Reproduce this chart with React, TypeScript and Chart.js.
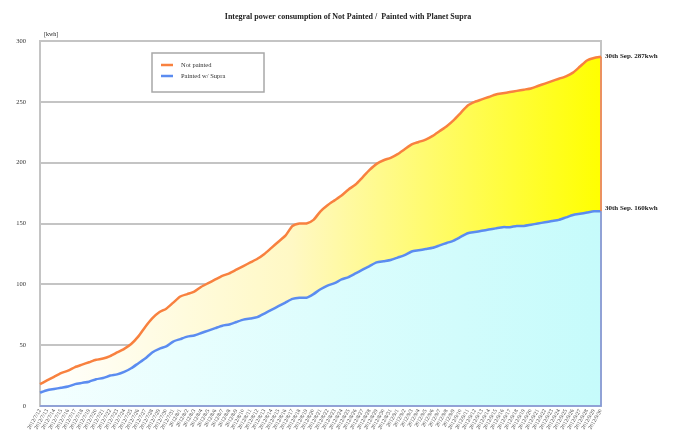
import React, { useEffect, useRef } from "react";
import { Chart, registerables } from "chart.js";

Chart.register(...registerables);

const TITLE = "Integral power consumption of Not Painted /  Painted with Planet Supra";
const UNIT_LABEL = "[kwh]";
const SERIES_NAMES = ["Not painted", "Painted w/ Supra"];
const END_NOTES = ["30th Sep. 287kwh", "30th Sep. 160kwh"];

const START_MONTH = 7;
const START_DAY = 12;
const DAY_COUNT = 81;

const notPainted = [
  18, 21, 24, 27, 29, 32, 34, 36, 38, 39,
  41, 44, 47, 51, 57, 65, 72, 77, 80, 85,
  90, 92, 94, 98, 101, 104, 107, 109, 112, 115,
  118, 121, 125, 130, 135, 140, 148, 150, 150, 153,
  160, 165, 169, 173, 178, 182, 188, 194, 199, 202,
  204, 207, 211, 215, 217, 219, 222, 226, 230, 235,
  241, 247, 250, 252, 254, 256, 257, 258, 259, 260,
  261, 263, 265, 267, 269, 271, 274, 279, 284, 286,
  287,
];

const paintedSupra = [
  11, 13, 14, 15, 16, 18, 19, 20, 22, 23,
  25, 26, 28, 31, 35, 39, 44, 47, 49, 53,
  55, 57, 58, 60, 62, 64, 66, 67, 69, 71,
  72, 73, 76, 79, 82, 85, 88, 89, 89, 92,
  96, 99, 101, 104, 106, 109, 112, 115, 118, 119,
  120, 122, 124, 127, 128, 129, 130, 132, 134, 136,
  139, 142, 143, 144, 145, 146, 147, 147, 148, 148,
  149, 150, 151, 152, 153, 155, 157, 158, 159, 160,
  160,
];

const Y_TICKS = [0, 50, 100, 150, 200, 250, 300];

function makeDateLabels(): string[] {
  const out: string[] = [];
  const d = new Date(2012, START_MONTH - 1, START_DAY);
  for (let i = 0; i < DAY_COUNT; i++) {
    out.push(`${d.getFullYear()}/${d.getMonth() + 1}/${d.getDate()}`);
    d.setDate(d.getDate() + 1);
  }
  return out;
}
const categories = makeDateLabels();

const FONT = "'Liberation Serif', 'DejaVu Serif', serif";
const ORANGE = "#f8813f";
const BLUE = "#5b8cf0";

const decorPlugin = {
  id: "decor",
  beforeDatasetsDraw(chart: any) {
    const { ctx, chartArea } = chart;
    ctx.save();
    ctx.strokeStyle = "#c4c4c4";
    ctx.lineWidth = 2;
    ctx.strokeRect(chartArea.left, chartArea.top, chartArea.right - chartArea.left, chartArea.bottom - chartArea.top);
    ctx.restore();
  },
  afterDatasetsDraw(chart: any) {
    const { ctx, chartArea, scales } = chart;
    const x = scales.x.getPixelForValue(DAY_COUNT - 1);
    const yTop = scales.y.getPixelForValue(notPainted[notPainted.length - 1]);
    const yMid = scales.y.getPixelForValue(paintedSupra[paintedSupra.length - 1]);
    ctx.save();
    ctx.lineWidth = 1.5;
    ctx.strokeStyle = ORANGE;
    ctx.beginPath();
    ctx.moveTo(x, yTop);
    ctx.lineTo(x, yMid);
    ctx.stroke();
    ctx.strokeStyle = "#7f96dc";
    ctx.beginPath();
    ctx.moveTo(x, yMid);
    ctx.lineTo(x, chartArea.bottom);
    ctx.lineTo(chartArea.left, chartArea.bottom);
    ctx.stroke();
    ctx.restore();
  },
  afterDraw(chart: any) {
    const { ctx, chartArea, scales } = chart;
    ctx.save();
    ctx.fillStyle = "#222";
    ctx.font = `bold 8px ${FONT}`;
    ctx.textAlign = "center";
    ctx.textBaseline = "middle";
    ctx.fillText(TITLE, 348, 17);
    ctx.font = `6px ${FONT}`;
    ctx.textAlign = "left";
    ctx.fillText(UNIT_LABEL, chartArea.left + 4, chartArea.top - 7);
    const x = scales.x.getPixelForValue(DAY_COUNT - 1);
    ctx.font = `bold 7px ${FONT}`;
    ctx.fillText(END_NOTES[0], x + 4, scales.y.getPixelForValue(notPainted[notPainted.length - 1]) - 1);
    ctx.fillText(END_NOTES[1], x + 4, scales.y.getPixelForValue(paintedSupra[paintedSupra.length - 1]) - 3);
    const lx = 152, ly = 53, lw = 112, lh = 39;
    ctx.fillStyle = "#ffffff";
    ctx.fillRect(lx, ly, lw, lh);
    ctx.strokeStyle = "#a8a8a8";
    ctx.lineWidth = 1.5;
    ctx.strokeRect(lx, ly, lw, lh);
    const colors = [ORANGE, BLUE];
    SERIES_NAMES.forEach((name, i) => {
      const yy = ly + 12 + i * 11;
      ctx.strokeStyle = colors[i];
      ctx.lineWidth = 2.5;
      ctx.beginPath();
      ctx.moveTo(lx + 9, yy);
      ctx.lineTo(lx + 21, yy);
      ctx.stroke();
      ctx.fillStyle = "#333";
      ctx.font = `6.5px ${FONT}`;
      ctx.fillText(name, lx + 29, yy);
    });
    ctx.restore();
  },
};

export default function App() {
  const ref = useRef<HTMLCanvasElement | null>(null);
  useEffect(() => {
    document.body.style.margin = "0";
    const canvas = ref.current!;
    const chart = new Chart(canvas, {
      type: "line",
      data: {
        labels: categories,
        datasets: [
          {
            label: SERIES_NAMES[0],
            data: notPainted,
            borderColor: ORANGE,
            borderWidth: 2.5,
            pointRadius: 0,
            tension: 0.2,
            fill: "+1",
            backgroundColor: (c: any) => {
              const a = c.chart.chartArea;
              if (!a) return "#ffffaa";
              const g = c.chart.ctx.createLinearGradient(a.left, 0, a.right, 0);
              g.addColorStop(0, "#ffffff");
              g.addColorStop(0.45, "#fff8c4");
              g.addColorStop(1, "#ffff00");
              return g;
            },
          },
          {
            label: SERIES_NAMES[1],
            data: paintedSupra,
            borderColor: BLUE,
            borderWidth: 2.5,
            pointRadius: 0,
            tension: 0.2,
            fill: "origin",
            backgroundColor: (c: any) => {
              const a = c.chart.chartArea;
              if (!a) return "#ccffff";
              const g = c.chart.ctx.createLinearGradient(a.left, 0, a.right, 0);
              g.addColorStop(0, "#f4ffff");
              g.addColorStop(1, "#c6fbfb");
              return g;
            },
          },
        ],
      },
      options: {
        responsive: false,
        animation: false,
        layout: { padding: { left: 0, right: 96, top: 41, bottom: 0 } },
        plugins: {
          legend: { display: false },
          title: { display: false },
          tooltip: { enabled: false },
          filler: { drawTime: "beforeDatasetsDraw" },
        } as any,
        scales: {
          x: {
            type: "category",
            offset: false,
            grid: { display: false, drawTicks: false },
            border: { display: false },
            ticks: {
              autoSkip: false,
              maxRotation: 60,
              minRotation: 60,
              padding: 2,
              color: "#444",
              font: { size: 5.5, family: FONT },
            },
            afterFit: (s: any) => {
              s.height = 28;
            },
          },
          y: {
            min: 0,
            max: 300,
            afterBuildTicks: (s: any) => {
              s.ticks = Y_TICKS.map((v) => ({ value: v }));
            },
            grid: { color: "#c4c4c4", lineWidth: 2, drawTicks: false },
            border: { display: false },
            ticks: {
              padding: 14,
              color: "#333",
              font: { size: 6.5, family: FONT },
            },
            afterFit: (s: any) => {
              s.width = 40;
            },
          },
        },
      },
      plugins: [decorPlugin],
    });
    return () => chart.destroy();
  }, []);
  return (
    <div style={{ width: 697, height: 434, background: "#fff" }}>
      <canvas ref={ref} width={697} height={434} style={{ display: "block" }} />
    </div>
  );
}
